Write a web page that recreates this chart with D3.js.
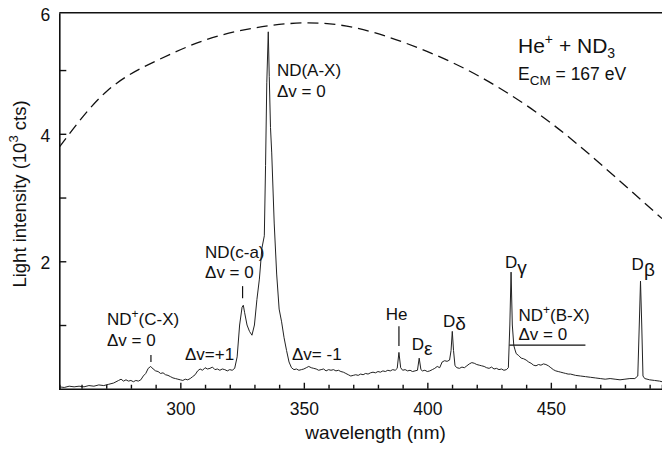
<!DOCTYPE html>
<html>
<head>
<meta charset="utf-8">
<script src="https://cdn.jsdelivr.net/npm/d3@7"></script>
<style>
  body { margin: 0; background: #fff; }
  svg { display: block; font-family: "Liberation Sans", Arial, sans-serif; }
</style>
</head>
<body>
<div id="chart"></div>
<script>
// Spectrum (wavelength in nm, intensity in 10^3 counts)
const wavelength = [
  251, 253, 255, 257, 259, 261, 263, 265, 267, 269, 271, 273, 275, 276, 277, 278, 279, 280,
  281, 282, 283, 284, 285, 286, 287, 288, 289, 290, 291, 292, 293, 294, 295, 296, 297, 298,
  299, 300, 301, 302, 303, 304, 305, 306, 307, 308, 309, 310, 311, 312, 313, 314, 315, 316,
  317, 318, 319, 320, 321, 322, 323, 324, 325, 325.5, 326, 327, 328, 329, 330, 331, 332, 333,
  334, 334.5, 335, 335.6, 336, 336.5, 337, 338, 339, 340, 341, 342, 343, 344, 345, 346, 347,
  348, 349, 350, 351, 352, 353, 354, 355, 356, 357, 358, 359, 360, 361, 362, 363, 364, 365,
  366, 367, 368, 369, 370, 371, 372, 373, 374, 375, 376, 377, 378, 379, 380, 381, 382, 383,
  384, 385, 386, 387, 387.8, 388.5, 389.2, 390, 391, 392, 393, 394, 395, 396, 396.7, 397.4,
  398, 399, 400, 401, 402, 403, 404, 405, 406, 407, 408, 409, 409.6, 410.1, 410.6, 411.2, 412,
  413, 414, 415, 416, 417, 418, 419, 420, 421, 422, 423, 424, 425, 426, 427, 428, 429, 430,
  431, 432, 432.8, 433.4, 433.9, 434.4, 435, 435.5, 436, 437, 438, 439, 440, 441, 442, 443,
  444, 445, 446, 447, 448, 449, 450, 451, 452, 453, 454, 455, 456, 457, 458, 459, 460, 462,
  464, 466, 468, 470, 472, 474, 476, 478, 480, 482, 484, 485.2, 485.8, 486.3, 486.8, 487.3,
  488, 490, 492, 494, 495
];
const intensity = [
  0.03, 0.02, 0.04, 0.03, 0.04, 0.03, 0.05, 0.04, 0.06, 0.05, 0.07, 0.09, 0.13, 0.15, 0.12, 0.14, 0.12, 0.13,
  0.11, 0.13, 0.12, 0.14, 0.20, 0.24, 0.32, 0.35, 0.31, 0.28, 0.27, 0.24, 0.25, 0.22, 0.21, 0.19, 0.17, 0.16,
  0.15, 0.14, 0.13, 0.15, 0.14, 0.16, 0.19, 0.22, 0.28, 0.31, 0.29, 0.33, 0.31, 0.32, 0.34, 0.30, 0.31, 0.29,
  0.31, 0.30, 0.28, 0.30, 0.29, 0.32, 0.50, 1.00, 1.28, 1.31, 1.20, 1.00, 0.90, 0.84, 1.00, 1.40, 1.72, 2.20,
  2.40, 3.50, 4.80, 5.60, 4.90, 4.10, 3.70, 2.60, 1.80, 1.25, 1.05, 0.80, 0.60, 0.42, 0.33, 0.30, 0.31,
  0.29, 0.30, 0.31, 0.33, 0.35, 0.33, 0.32, 0.31, 0.29, 0.30, 0.31, 0.28, 0.30, 0.29, 0.30, 0.28, 0.29, 0.27,
  0.26, 0.24, 0.22, 0.20, 0.21, 0.22, 0.21, 0.23, 0.22, 0.24, 0.23, 0.25, 0.26, 0.25, 0.27, 0.26, 0.28, 0.27,
  0.29, 0.28, 0.30, 0.29, 0.32, 0.57, 0.33, 0.29, 0.30, 0.28, 0.29, 0.27, 0.28, 0.29, 0.48, 0.30,
  0.28, 0.29, 0.27, 0.28, 0.30, 0.32, 0.35, 0.33, 0.42, 0.44, 0.43, 0.45, 0.60, 0.90, 0.60, 0.36, 0.33,
  0.32, 0.34, 0.33, 0.36, 0.39, 0.41, 0.40, 0.38, 0.37, 0.36, 0.35, 0.33, 0.32, 0.34, 0.31, 0.32, 0.30, 0.31,
  0.29, 0.30, 0.33, 1.00, 1.83, 1.00, 0.68, 0.61, 0.55, 0.52, 0.48, 0.47, 0.45, 0.42, 0.40, 0.37,
  0.36, 0.38, 0.37, 0.39, 0.38, 0.36, 0.33, 0.30, 0.28, 0.27, 0.26, 0.25, 0.24, 0.23, 0.23, 0.22, 0.21, 0.20,
  0.19, 0.18, 0.17, 0.16, 0.15, 0.16, 0.15, 0.14, 0.15, 0.16, 0.16, 0.20, 1.00, 1.69, 1.00, 0.20,
  0.16, 0.14, 0.13, 0.12, 0.11
];

// Dashed response curve
const responseWl  = [251, 270, 290, 310, 330, 350, 370, 390, 410, 430, 450, 470, 495];
const responseVal = [3.79, 4.66, 5.14, 5.47, 5.66, 5.74, 5.67, 5.44, 5.12, 4.70, 4.17, 3.53, 2.67];

// Axis ticks
const xMajorTicks = [300, 350, 400, 450];
const xMinorTicks = [260, 270, 280, 290, 310, 320, 330, 340, 360, 370, 380, 390, 410, 420, 430, 440, 460, 470, 480, 490];
const yTicks = [1, 2, 3, 4, 5];
const yLabels = [2, 4, 6];

const width = 662, height = 450;
const margin = { top: 12.7, right: 0, bottom: 61.25, left: 59.3 };

const svg = d3.select("#chart").append("svg")
    .attr("width", width)
    .attr("height", height);

const x = d3.scaleLinear().domain([251, 495]).range([margin.left, width - margin.right]);
const y = d3.scaleLinear().domain([0, 5.9]).range([height - margin.bottom, margin.top]);

svg.append("clipPath").attr("id", "clip")
  .append("rect")
    .attr("x", margin.left).attr("y", margin.top)
    .attr("width", width - margin.left - margin.right)
    .attr("height", height - margin.top - margin.bottom);

// Dashed curve
const response = responseWl.map((d, i) => [d, responseVal[i]]);
svg.append("path")
    .datum(response)
    .attr("clip-path", "url(#clip)")
    .attr("fill", "none")
    .attr("stroke", "#111")
    .attr("stroke-width", 1.3)
    .attr("stroke-dasharray", "11,6")
    .attr("d", d3.line().x(d => x(d[0])).y(d => y(d[1])).curve(d3.curveNatural));

// Spectrum
const spectrum = wavelength.map((d, i) => [d, intensity[i]]);
svg.append("path")
    .datum(spectrum)
    .attr("clip-path", "url(#clip)")
    .attr("fill", "none")
    .attr("stroke", "#222")
    .attr("stroke-width", 1)
    .attr("stroke-linejoin", "round")
    .attr("d", d3.line().x(d => x(d[0])).y(d => y(d[1])));

// Axes
const axisStyle = function(g) {
  g.select(".domain").attr("stroke", "#111").attr("stroke-width", 1.6);
  g.selectAll(".tick line").attr("stroke", "#111").attr("stroke-width", 1.4);
  g.selectAll("text").attr("fill", "#111").attr("font-size", 17.5);
};

svg.append("g")
    .attr("transform", `translate(0,${y(0)})`)
    .call(d3.axisBottom(x).tickValues(xMinorTicks).tickSize(-4).tickFormat(""))
    .call(axisStyle);

svg.append("g")
    .attr("transform", `translate(0,${y(0)})`)
    .call(d3.axisBottom(x).tickValues(xMajorTicks).tickSizeInner(-6).tickSizeOuter(0).tickPadding(14).tickFormat(d3.format("d")))
    .call(axisStyle)
    .call(g => g.select(".domain").remove());

svg.append("g")
    .attr("transform", `translate(${margin.left},0)`)
    .call(d3.axisLeft(y).tickValues(yTicks).tickSizeInner(-7).tickSizeOuter(0).tickFormat(""))
    .call(axisStyle);

// y labels (the "6" sits at the top edge of the frame)
svg.append("g")
    .attr("font-size", 17.5)
    .attr("text-anchor", "end")
    .selectAll("text")
    .data(yLabels)
    .join("text")
    .attr("x", margin.left - 9)
    .attr("y", d => Math.max(y(d), margin.top) + 2)
    .attr("dy", "0.35em")
    .attr("fill", "#111")
    .text(d => d);

// top frame line
svg.append("line")
    .attr("x1", margin.left).attr("x2", width)
    .attr("y1", margin.top).attr("y2", margin.top)
    .attr("stroke", "#111").attr("stroke-width", 1.6);

// Axis titles
svg.append("text")
    .attr("x", (x(300) + x(450)) / 2 + 10)
    .attr("y", 439)
    .attr("text-anchor", "middle")
    .attr("font-size", 19)
    .attr("fill", "#111")
    .text("wavelength (nm)");

const ylab = svg.append("text")
    .attr("transform", "translate(26,194) rotate(-90)")
    .attr("text-anchor", "middle")
    .attr("font-size", 18.5)
    .attr("fill", "#111");
ylab.append("tspan").text("Light intensity (10");
ylab.append("tspan").attr("font-size", 13).attr("dy", -8).text("3");
ylab.append("tspan").attr("dy", 8).text(" cts)");

// Annotations
const ann = svg.append("g").attr("font-size", 17).attr("fill", "#111");

function label(wl, val, parts) {
  const t = ann.append("text").attr("x", x(wl)).attr("y", y(val));
  parts.forEach(p => {
    const s = t.append("tspan").text(p.t);
    if (p.dy) s.attr("dy", p.dy);
    if (p.size) s.attr("font-size", p.size);
  });
  return t;
}

function tick(wl, v1, v2) {
  ann.append("line")
      .attr("x1", x(wl)).attr("x2", x(wl))
      .attr("y1", y(v1)).attr("y2", y(v2))
      .attr("stroke", "#111").attr("stroke-width", 1.2);
}

label(270.3, 1.0, [{ t: "ND" }, { t: "+", size: 12, dy: -7 }, { t: "(C-X)", dy: 7 }]);
label(270.3, 0.67, [{ t: "\u0394v = 0" }]);
tick(288.1, 0.53, 0.42);

label(301.9, 0.45, [{ t: "\u0394v=+1" }]);

label(310, 2.05, [{ t: "ND(c-a)" }]);
label(310, 1.73, [{ t: "\u0394v = 0" }]);
tick(325.2, 1.61, 1.42);

label(339.1, 4.9, [{ t: "ND(A-X)" }]);
label(339.1, 4.57, [{ t: "\u0394v = 0" }]);

label(345.2, 0.45, [{ t: "\u0394v= -1" }]);

label(383.2, 1.08, [{ t: "He" }]);
tick(388.5, 0.98, 0.67);

label(393.7, 0.61, [{ t: "D" }, { t: "\u03b5", size: 19, dy: 5 }]);
label(406.3, 0.97, [{ t: "D" }, { t: "\u03b4", size: 19, dy: 3 }]);
label(431.4, 1.89, [{ t: "D" }, { t: "\u03b3", size: 19, dy: 6 }]);
label(482.7, 1.86, [{ t: "D" }, { t: "\u03b2", size: 19, dy: 6 }]);

label(436.9, 1.06, [{ t: "ND" }, { t: "+", size: 12, dy: -7 }, { t: "(B-X)", dy: 7 }]);
label(436.9, 0.76, [{ t: "\u0394v = 0" }]);
ann.append("line")
    .attr("x1", x(433.2)).attr("x2", x(464))
    .attr("y1", y(0.685)).attr("y2", y(0.685))
    .attr("stroke", "#111").attr("stroke-width", 1.2);

// Title block, top right
const t1 = svg.append("text").attr("x", 518).attr("y", 53).attr("font-size", 21).attr("fill", "#111");
t1.append("tspan").text("He");
t1.append("tspan").attr("font-size", 14).attr("dy", -9).text("+");
t1.append("tspan").attr("dy", 9).text(" + ND");
t1.append("tspan").attr("font-size", 14).attr("dy", 5).text("3");

const t2 = svg.append("text").attr("x", 518).attr("y", 80).attr("font-size", 17.5).attr("fill", "#111");
t2.append("tspan").text("E");
t2.append("tspan").attr("font-size", 13.5).attr("dy", 5).text("CM");
t2.append("tspan").attr("dy", -5).text(" = 167 eV");
</script>
</body>
</html>
